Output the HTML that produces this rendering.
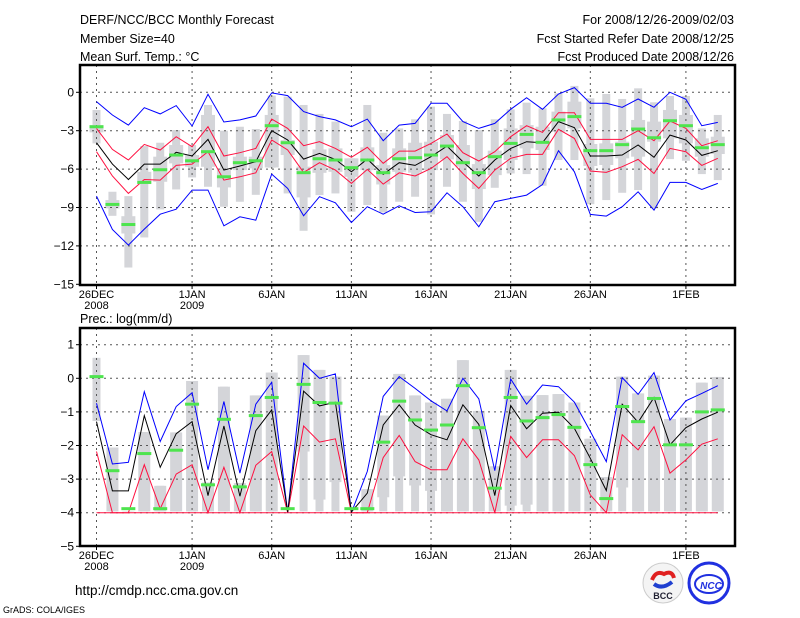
<!DOCTYPE html>
<html><head><meta charset="utf-8"><style>
body{margin:0;background:#fff;}
svg{display:block;font-family:"Liberation Sans",sans-serif;}
</style></head><body>
<svg id="chart" width="800" height="618" viewBox="0 0 800 618" xmlns="http://www.w3.org/2000/svg">
<rect x="0" y="0" width="800" height="618" fill="#fff"/>
<g font-size="12.5" fill="#000">
<text x="80" y="24">DERF/NCC/BCC Monthly Forecast</text>
<text x="80" y="43">Member Size=40</text>
<text x="80" y="61">Mean Surf. Temp.: °C</text>
<text x="734" y="24" text-anchor="end">For 2008/12/26-2009/02/03</text>
<text x="734" y="43" text-anchor="end">Fcst Started Refer Date 2008/12/25</text>
<text x="734" y="61" text-anchor="end">Fcst Produced Date 2008/12/26</text>
<text x="80" y="323">Prec.: log(mm/d)</text>
<text x="75" y="595" font-size="13.5">http://cmdp.ncc.cma.gov.cn</text>
<text x="3" y="613" font-size="9">GrADS: COLA/IGES</text>
</g>
<g id="top"></g>
<g id="bot"></g>
<g>
<circle cx="663" cy="583" r="20" fill="#f4f4f4" stroke="#ccc"/>
<path d="M652 580 q4 -10 12 -6 q8 -4 10 4" stroke="#e02020" stroke-width="4" fill="none"/>
<path d="M654 584 q8 6 18 -2" stroke="#2040d0" stroke-width="4" fill="none"/>
<text x="663" y="599" font-size="9" font-weight="bold" text-anchor="middle" fill="#223">BCC</text>
</g>
<g>
<circle cx="709" cy="583" r="20" fill="none" stroke="#2030e0" stroke-width="3"/>
<ellipse cx="709" cy="584" rx="14" ry="9" fill="none" stroke="#2030e0" stroke-width="2"/>
<text x="711" y="589" font-size="10" font-weight="bold" font-style="italic" text-anchor="middle" fill="#2030e0">NCC</text>
</g>
</svg>
<script>
// ---- temperature data ----
const tBlueUp=[-0.73,-1.77,-2.56,-1.20,-1.69,-1.04,-2.63,-0.16,-2.32,-2.16,-1.85,-0.05,-0.26,-1.51,-1.90,-2.16,-2.69,-2.09,-3.78,-2.56,-2.43,-0.86,-0.86,-2.29,-2.82,-2.43,-1.33,-0.42,-1.33,-0.13,0.37,-0.86,-0.86,-1.17,-0.52,-1.17,0,-0.55,-2.61,-2.35];
const tRedUp=[-2.82,-4.46,-5.29,-4.07,-4.51,-3.47,-4.25,-2.69,-4.98,-4.72,-4.38,-2.09,-2.82,-4.17,-3.86,-4.38,-5.08,-4.30,-5.55,-4.59,-4.59,-3.99,-3.26,-4.72,-5.37,-4.64,-3.47,-2.61,-3.13,-1.59,-1.59,-3.68,-3.68,-3.68,-3.00,-3.78,-2.24,-2.82,-4.17,-3.78];
const tMean=[-3.94,-5.61,-6.81,-5.61,-5.61,-4.69,-4.98,-3.68,-6.08,-5.76,-5.42,-3.00,-3.73,-5.22,-4.77,-5.24,-6.21,-5.22,-6.41,-5.50,-5.71,-5.03,-4.20,-5.42,-6.54,-5.29,-4.38,-3.86,-3.94,-2.29,-2.76,-4.98,-4.98,-4.90,-4.12,-5.08,-3.34,-3.73,-4.93,-4.56];
const tRedLo=[-4.64,-6.54,-7.90,-6.81,-6.86,-5.71,-5.61,-4.64,-6.86,-6.60,-6.29,-3.73,-4.51,-6.26,-5.50,-6.08,-7.12,-6.02,-7.17,-6.29,-6.54,-5.95,-5.03,-6.34,-7.51,-6.08,-5.16,-4.85,-4.85,-2.89,-3.60,-6.15,-6.26,-5.81,-5.24,-6.34,-4.38,-4.64,-5.71,-5.16];
const tBlueLo=[-8.11,-10.72,-11.94,-10.69,-9.52,-9.13,-7.64,-7.64,-10.43,-9.73,-9.99,-6.39,-7.51,-9.65,-8.16,-8.63,-10.17,-8.94,-9.52,-8.87,-9.39,-9.33,-7.85,-8.94,-10.51,-8.55,-8.29,-8.03,-7.20,-4.56,-6.21,-9.54,-9.67,-8.94,-7.77,-9.20,-7.04,-7.04,-7.59,-7.12];
const tMedian=[-2.69,-8.76,-10.33,-7.04,-6.05,-4.90,-5.35,-4.64,-6.60,-5.50,-5.35,-2.61,-3.94,-6.28,-5.19,-5.29,-5.89,-5.29,-6.28,-5.19,-5.11,-4.90,-4.20,-5.50,-6.28,-5.03,-3.99,-3.29,-3.91,-2.16,-1.90,-4.56,-4.56,-4.09,-2.87,-3.55,-2.22,-2.61,-4.33,-4.09];
const tMax=[-1.38,-7.77,-8.11,-4.20,-3.94,-2.95,-4.12,-0.99,-3.00,-2.69,-2.87,-0.26,-0.34,-0.99,-1.69,-2.29,-5.16,-0.99,-3.16,-2.82,-2.11,-1.12,-1.69,-2.24,-2.95,-2.11,-1.33,-0.81,-1.25,-0.08,0.50,-0.47,-0.13,-0.52,0.31,-0.78,-0.29,-0.29,-2.82,-1.77];
const tMin=[-3.99,-9.65,-13.69,-11.34,-9.15,-7.59,-6.65,-7.38,-8.94,-8.55,-8.01,-5.89,-7.90,-10.82,-8.03,-7.90,-9.33,-8.81,-9.39,-8.55,-8.16,-9.54,-7.38,-8.55,-10.12,-7.46,-6.34,-6.39,-7.30,-5.29,-5.29,-8.74,-8.42,-7.85,-7.64,-9.07,-5.22,-5.35,-6.39,-6.86];
const tQ3=[-2.56,-8.42,-9.68,-6.21,-5.03,-4.12,-4.90,-1.77,-6.08,-5.03,-5.03,-1.77,-3.73,-5.81,-4.46,-4.38,-5.16,-4.30,-5.69,-4.38,-3.94,-3.86,-3.34,-4.12,-5.61,-4.56,-2.82,-2.56,-2.69,-1.51,-0.73,-4.04,-3.99,-3.86,-2.16,-2.29,-1.38,-1.77,-3.60,-3.47];
const tQ1=[-3.13,-9.07,-11.03,-7.17,-6.99,-5.55,-5.82,-5.82,-7.43,-6.08,-5.94,-5.87,-4.90,-8.21,-6.29,-6.21,-6.60,-6.08,-7.20,-6.21,-6.28,-6.08,-5.24,-5.81,-7.56,-6.47,-5.29,-4.38,-4.51,-3.08,-2.82,-5.76,-5.68,-5.16,-5.03,-3.86,-3.60,-3.99,-5.03,-4.82];
const tTicks=[0,-3,-6,-9,-12,-15];
// ---- precipitation data ----
const pBlue=[-0.74,-2.55,-2.50,-0.40,-1.88,-0.84,-0.43,-2.72,-0.69,-2.82,-0.77,-0.12,-4.0,0.45,0.0,0.13,-4.0,-2.77,-0.54,0.05,-0.30,-0.67,-0.97,0.0,-0.61,-2.75,-0.02,-0.77,-0.20,-0.25,-0.71,-1.58,-2.48,0.02,-0.48,0.17,-1.24,-0.67,-0.45,-0.22];
const pMean=[-1.29,-3.35,-3.35,-1.11,-2.65,-1.65,-1.29,-3.49,-1.42,-3.51,-1.56,-0.94,-3.98,-0.38,-0.82,-0.71,-3.98,-3.42,-1.39,-0.79,-1.39,-1.68,-1.83,-0.79,-1.37,-3.49,-0.81,-1.50,-1.04,-1.01,-1.49,-2.38,-3.34,-0.77,-1.31,-0.57,-1.98,-1.47,-1.21,-1.01];
const pRed=[-2.18,-4,-4,-2.57,-3.88,-2.85,-2.57,-4,-2.65,-4,-2.59,-2.18,-4,-1.42,-1.90,-1.80,-4,-4,-2.36,-1.70,-2.48,-2.72,-2.72,-1.80,-2.43,-4,-1.73,-2.36,-1.83,-1.83,-2.30,-3.47,-4,-1.68,-2.13,-1.44,-2.82,-2.43,-1.96,-1.80];
const pMedian=[0.05,-2.75,-3.88,-2.24,-3.88,-2.14,-0.77,-3.17,-1.22,-3.23,-1.11,-0.57,-3.88,-0.18,-0.72,-0.74,-3.88,-3.88,-1.90,-0.68,-1.24,-1.54,-1.39,-0.22,-1.47,-3.27,-0.57,-1.27,-1.17,-1.08,-1.46,-2.57,-3.58,-0.84,-1.29,-0.60,-1.98,-1.98,-1.00,-0.94];
const pMax=[0.61,-2.06,-3.95,-1.60,-3.20,-1.61,-0.08,-3.10,-0.25,-3.12,-0.51,0.17,-3.96,0.69,0.25,0.05,-3.96,-3.30,-1.11,0.13,-0.51,-0.72,-0.61,0.54,-0.97,-2.62,0.25,-0.52,-0.50,-0.47,-0.72,-1.80,-2.94,0.05,-0.45,0.08,-1.21,-1.17,-0.13,0.04];
const pMin=[-1.27,-3.96,-3.96,-3.96,-3.96,-3.96,-3.96,-3.96,-3.96,-3.96,-3.96,-3.96,-3.96,-3.96,-3.96,-3.96,-3.96,-3.96,-3.96,-3.96,-3.96,-3.96,-3.96,-3.96,-3.96,-3.96,-3.96,-3.96,-3.96,-3.96,-3.96,-3.96,-3.96,-3.96,-3.96,-3.96,-3.96,-3.96,-3.96,-3.96];
const pBoxLo=[0.61,-3.96,-3.96,-3.96,-3.96,-3.96,-3.96,-3.96,-3.96,-3.96,-3.96,-3.96,-3.96,-2.18,-3.61,-3.09,-3.96,-3.96,-3.54,-2.92,-3.19,-3.35,-3.96,-3.96,-3.96,-3.96,-3.79,-3.76,-3.96,-3.96,-3.96,-3.96,-3.96,-3.25,-3.96,-3.96,-3.96,-3.96,-3.96,-3.96];
const pTicks=[1,0,-1,-2,-3,-4,-5];
const xTickDay=[0,6,11,16,21,26,31,37];
const xTickLabel=["26DEC","1JAN","6JAN","11JAN","16JAN","21JAN","26JAN","1FEB"];
const xTickYear=["2008","2009","","","","","",""];

const NS="http://www.w3.org/2000/svg";
const X0=80,X1=735;
function xs(i){return 96.5+i*15.93;}
function mk(parent,tag,attrs){const e=document.createElementNS(NS,tag);for(const k in attrs)e.setAttribute(k,attrs[k]);parent.appendChild(e);return e;}

function panel(g,top,bottom,y0,ppu,ticks,dec){
  const ys=v=>y0-v*ppu;
  // bars drawn by caller
  return ys;
}
function frame(g,top,bottom,ys,ticks,name){
  ticks.forEach(t=>{
    const y=ys(t);
    if(y>top+1&&y<bottom-1){const l=mk(g,'line',{x1:X0,x2:X1,y1:y,y2:y,stroke:'#555','stroke-dasharray':'2,4','stroke-width':1});
    
    }
    mk(g,'line',{x1:X0-4,x2:X0,y1:y,y2:y,stroke:'#000'});
    const tx=mk(g,'text',{x:X0-6,y:y+4,'text-anchor':'end','font-size':12});
    tx.textContent=(t<0?'\u2212'+(-t):String(t));
    
    
  });
  xTickDay.forEach((d,k)=>{
    const x=xs(d);
    const l=mk(g,'line',{x1:x,x2:x,y1:top,y2:bottom,stroke:'#555','stroke-dasharray':'2,4'});
    
    
    mk(g,'line',{x1:x,x2:x,y1:bottom,y2:bottom+4,stroke:'#000'});
    const t=mk(g,'text',{x:x,y:bottom+13,'text-anchor':'middle','font-size':11});
    t.textContent=xTickLabel[k];
    
    
    if(xTickYear[k]){const t2=mk(g,'text',{x:x,y:bottom+24,'text-anchor':'middle','font-size':11});t2.textContent=xTickYear[k];
    
    }
  });
}
function line(g,arr,ys,color,name){
  const pts=arr.map((v,i)=>xs(i).toFixed(1)+','+ys(v).toFixed(1)).join(' ');
  const p=mk(g,'polyline',{points:pts,fill:'none',stroke:color,'stroke-width':1});
  
  
}
function medians(g,arr,ys,name){
  arr.forEach((v,i)=>{const r=mk(g,'rect',{x:xs(i)-7,y:ys(v)-1.5,width:14,height:3,fill:'#4ee44e'});
  
  });
}
function box(g,top,bottom,name){
  const r=mk(g,'rect',{x:X0,y:top,width:X1-X0,height:bottom-top,fill:'none',stroke:'#000','stroke-width':2.5});
  
  
}

// top panel
(function(){
  const g=document.getElementById('top');
  const top=65,bottom=285;const ys=v=>92.3-v*12.8;
  tMax.forEach((v,i)=>{
    const r=mk(g,'rect',{x:xs(i)-4,y:ys(v),width:8,height:ys(tMin[i])-ys(v),fill:'#d4d5d9'});
    
    
    const b=mk(g,'rect',{x:xs(i)-7,y:ys(tQ3[i]),width:14,height:ys(tQ1[i])-ys(tQ3[i]),fill:'#d4d5d9'});
    
    
  });
  frame(g,top,bottom,ys,tTicks,'temp');
  line(g,tBlueUp,ys,'#0000ff','temp-upper-extreme-line');
  line(g,tBlueLo,ys,'#0000ff','temp-lower-extreme-line');
  line(g,tRedUp,ys,'#ff1040','temp-upper-spread-line');
  line(g,tRedLo,ys,'#ff1040','temp-lower-spread-line');
  line(g,tMean,ys,'#000','temp-ensemble-mean-line');
  medians(g,tMedian,ys,'temp-median-marker');
  box(g,top,bottom,'temp-plot-frame');
})();
// bottom panel
(function(){
  const g=document.getElementById('bot');
  const top=328,bottom=546;const ys=v=>378.3-v*33.6;
  pMax.forEach((v,i)=>{
    const r=mk(g,'rect',{x:xs(i)-6,y:ys(v),width:12,height:Math.max(0,ys(pBoxLo[i])-ys(v)),fill:'#d4d5d9'});
    
    
    const n=mk(g,'rect',{x:xs(i)-4,y:ys(v),width:8,height:Math.max(0,ys(pMin[i])-ys(v)),fill:'#d4d5d9'});
    
    
  });
  frame(g,top,bottom,ys,pTicks,'precip');
  const base=mk(g,'line',{x1:xs(0),x2:xs(39),y1:ys(-4),y2:ys(-4),stroke:'#ff1040'});
  
  
  line(g,pBlue,ys,'#0000ff','precip-upper-line');
  line(g,pRed,ys,'#ff1040','precip-lower-line');
  line(g,pMean,ys,'#000','precip-ensemble-mean-line');
  medians(g,pMedian,ys,'precip-median-marker');
  box(g,top,bottom,'precip-plot-frame');
})();
</script>
</body></html>
